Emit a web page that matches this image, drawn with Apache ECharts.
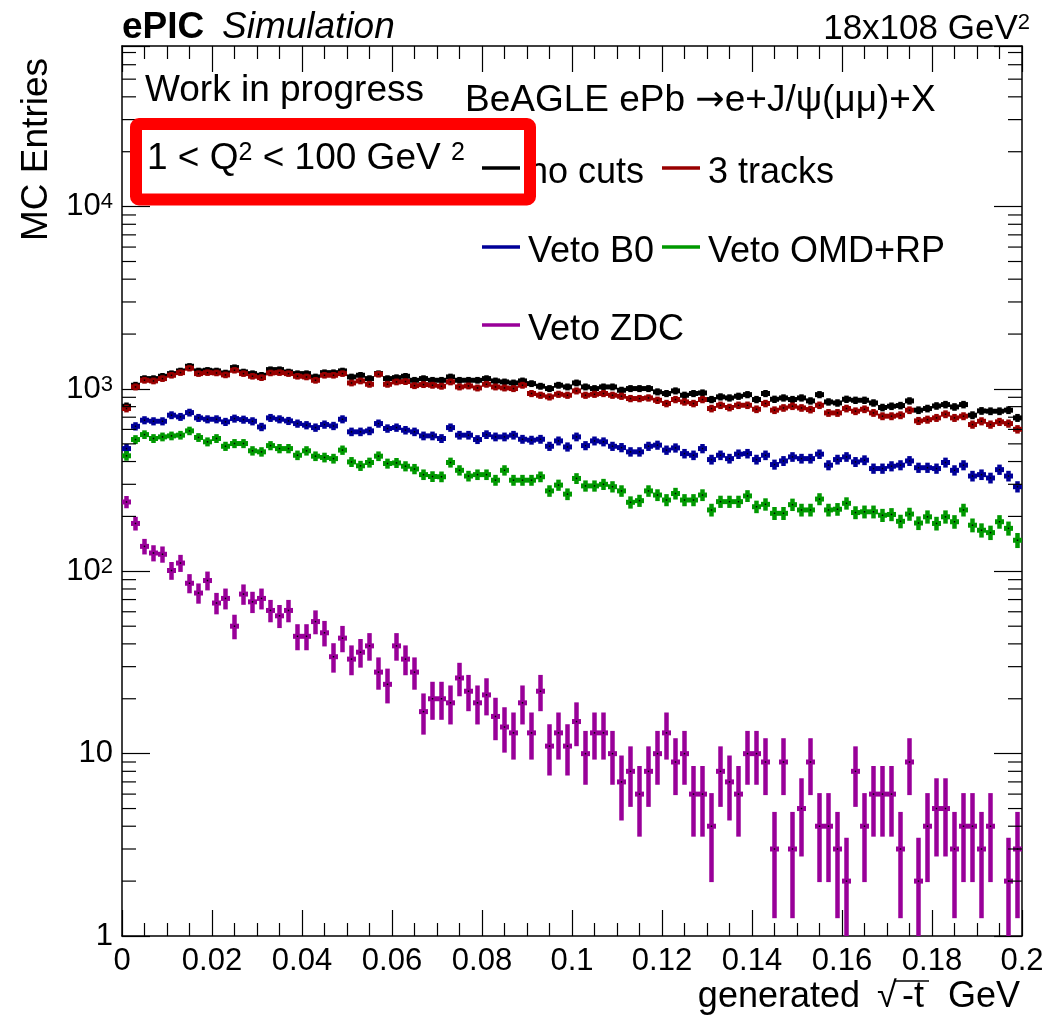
<!DOCTYPE html>
<html>
<head>
<meta charset="utf-8">
<title>BeAGLE ePb J/psi - generated sqrt(-t)</title>
<script src="https://cdn.jsdelivr.net/npm/echarts@6.0.0/dist/echarts.min.js"></script>
<style>
  html, body { margin: 0; padding: 0; background: #ffffff; }
  #chart { width: 1050px; height: 1025px; }
</style>
</head>
<body>
<div id="chart"></div>
<script>
// Histogram binning in generated sqrt(-t) [GeV]
const xMin = 0;
const xMax = 0.2;
const binWidth = 0.002;
const yMin = 1;
const yMax = 76000;

// MC entries per bin (100 bins), one array per selection
const noCuts = [
  804, 1048, 1140, 1140, 1174, 1214, 1256, 1332, 1256, 1266,
  1256, 1224, 1310, 1240, 1214, 1189, 1277, 1277, 1240, 1214,
  1214, 1164, 1229, 1229, 1256, 1164, 1189, 1140, 1214, 1140,
  1154, 1174, 1116, 1140, 1116, 1116, 1164, 1116, 1116, 1116,
  1140, 1107, 1093, 1079, 1107, 1070, 1035, 1005, 1048, 1026,
  1079, 1026, 1005, 1026, 1026, 984, 1005, 1005, 1005, 964,
  944, 976, 924, 944, 951, 875, 905, 893, 912, 931,
  875, 944, 878, 893, 875, 893, 860, 931, 849, 838,
  878, 867, 867, 838, 791, 804, 811, 860, 765, 781,
  807, 821, 797, 821, 718, 758, 755, 755, 765, 694
];
const threeTracks = [
  781, 1026, 1116, 1107, 1140, 1189, 1229, 1299, 1214, 1229,
  1224, 1194, 1266, 1214, 1174, 1154, 1224, 1229, 1214, 1174,
  1164, 1116, 1189, 1189, 1214, 1079, 1107, 1061, 1204, 1061,
  1093, 1098, 1043, 1057, 1048, 1035, 1093, 1026, 1039, 1013,
  1061, 1026, 1013, 1005, 1048, 944, 924, 905, 935, 924,
  976, 924, 935, 944, 924, 912, 886, 886, 893, 867,
  832, 875, 849, 832, 875, 781, 814, 791, 814, 814,
  774, 832, 765, 787, 804, 787, 771, 814, 739, 739,
  781, 755, 774, 739, 709, 709, 718, 765, 668, 679,
  694, 727, 694, 709, 638, 665, 638, 660, 646, 601
];
const vetoB0 = [
  471, 624, 674, 665, 665, 718, 703, 742, 694, 682,
  682, 660, 688, 679, 665, 619, 694, 682, 668, 646,
  633, 614, 638, 627, 682, 582, 582, 589, 646, 607,
  614, 594, 582, 553, 553, 535, 614, 558, 558, 528,
  562, 546, 546, 558, 530, 524, 530, 485, 519, 481,
  546, 489, 519, 513, 485, 477, 452, 452, 485, 492,
  462, 475, 442, 433, 471, 410, 433, 415, 439, 442,
  410, 433, 385, 403, 424, 415, 415, 439, 382, 410,
  424, 398, 407, 366, 366, 377, 382, 403, 370, 370,
  366, 395, 358, 382, 333, 339, 325, 361, 333, 291
];
const vetoOMDRP = [
  430, 528, 562, 535, 546, 553, 558, 589, 542, 513,
  535, 485, 502, 502, 458, 452, 489, 471, 471, 433,
  458, 428, 421, 415, 462, 398, 379, 395, 428, 390,
  393, 377, 364, 339, 331, 330, 395, 358, 333, 339,
  339, 316, 358, 316, 316, 316, 330, 276, 297, 265,
  323, 294, 294, 300, 291, 276, 239, 244, 276, 262,
  246, 267, 246, 246, 262, 217, 241, 241, 241, 259,
  226, 233, 208, 208, 232, 217, 217, 249, 217, 219,
  236, 210, 212, 212, 203, 205, 188, 206, 184, 199,
  183, 199, 187, 217, 179, 168, 163, 187, 172, 148
];
const vetoZDC = [
  240, 183, 137, 126, 124, 101, 111, 86, 76, 89,
  67, 71, 50, 75, 68, 71, 61, 57, 61, 44,
  44, 53, 46, 34, 43, 33, 36, 39, 28, 24,
  39, 33, 28, 17, 20, 20, 19, 26, 22, 19,
  21, 16, 14, 13, 19, 13, 22, 11, 13, 11,
  15, 10, 13, 13, 10, 7, 8, 6, 8, 10,
  13, 9, 10, 6, 6, 4, 8, 7, 6, 10,
  10, 9, 3, 9, 3, 5, 9, 4, 4, 3,
  2, 8, 4, 6, 6, 6, 3, 9, 2, 4,
  5, 5, 3, 4, 4, 3, 4, 0, 2, 3
];

// Labels
const seriesNames = ['no cuts', '3 tracks', 'Veto B0', 'Veto OMD+RP', 'Veto ZDC'];
const seriesColors = ['#000000', '#990000', '#000099', '#009900', '#990099'];
const seriesValues = [noCuts, threeTracks, vetoB0, vetoOMDRP, vetoZDC];
const logMinorSteps = [2, 3, 4, 5, 6, 7, 8, 9];
const yDecades = [1, 10, 100, 1000, 10000];

const FONT = '"Liberation Sans", Arial, Helvetica, sans-serif';
const SYMBOL_FONT = '"DejaVu Sans", "Liberation Sans", sans-serif';

const binCenters = noCuts.map((_, i) => xMin + (i + 0.5) * binWidth);

// Data point with Poisson error bar: horizontal bar spans the bin, vertical bar is +-sqrt(N)
function renderHistPoint(params, api) {
  const x = api.value(0);
  const v = api.value(1);
  if (!(v > 0)) return null;
  const err = Math.sqrt(v);
  const cs = params.coordSys;
  const yTop = cs.y, yBot = cs.y + cs.height;
  const left = api.coord([x - binWidth / 2, v]);
  const right = api.coord([x + binWidth / 2, v]);
  const hi = api.coord([x, v + err]);
  const lo = v - err > 0 ? api.coord([x, v - err]) : [hi[0], yBot + 50];
  const color = api.visual('color');
  const y1 = Math.max(hi[1] - 1, yTop);
  const y2 = Math.min(lo[1] + 1, yBot);
  const children = [];
  if (y2 > y1) {
    children.push({
      type: 'line',
      shape: { x1: hi[0], y1: y1, x2: hi[0], y2: y2 },
      style: { stroke: color, lineWidth: 4.5 }
    });
  }
  if (left[1] >= yTop && left[1] <= yBot) {
    children.push({
      type: 'line',
      shape: { x1: left[0], y1: left[1], x2: right[0], y2: right[1] },
      style: { stroke: color, lineWidth: 5 }
    });
    children.push({
      type: 'rect',
      shape: { x: hi[0] - 0.75, y: left[1] - 0.75, width: 1.5, height: 1.5 },
      style: { fill: '#000000' }
    });
  }
  return { type: 'group', children: children };
}

// Log-scale minor ticks (2..9 x 10^n) on the left and right frame edges
const minorTickValues = [];
yDecades.forEach(d => logMinorSteps.forEach(k => { if (d * k < yMax) minorTickValues.push(d * k); }));

function renderMinorTick(params, api) {
  const v = api.value(1);
  const pL = api.coord([xMin, v]);
  const pR = api.coord([xMax, v]);
  const st = { stroke: '#000000', lineWidth: 1.2 };
  return {
    type: 'group',
    children: [
      { type: 'line', shape: { x1: pL[0], y1: pL[1], x2: pL[0] + 14, y2: pL[1] }, style: st },
      { type: 'line', shape: { x1: pR[0] - 14, y1: pR[1], x2: pR[0], y2: pR[1] }, style: st }
    ]
  };
}

const xAxisCommon = {
  type: 'value', min: xMin, max: xMax, interval: 0.02,
  axisLine: { show: true, onZero: false, lineStyle: { color: '#000', width: 1.5 } },
  axisTick: { show: true, inside: true, length: 26, lineStyle: { color: '#000', width: 1.2 } },
  minorTick: { show: true, splitNumber: 4, length: 13, lineStyle: { color: '#000', width: 1.2 } },
  splitLine: { show: false },
  minorSplitLine: { show: false }
};
const yAxisCommon = {
  type: 'log', logBase: 10, min: yMin, max: yMax, splitNumber: 5,
  axisLine: { show: true, onZero: false, lineStyle: { color: '#000', width: 1.5 } },
  axisTick: { show: true, inside: true, length: 28, lineStyle: { color: '#000', width: 1.2 } },
  minorTick: { show: false },
  splitLine: { show: false }
};

function decadeLabel(v) {
  const lg = Math.log10(v);
  const p = Math.round(lg);
  if (Math.abs(lg - p) > 1e-6 || yDecades.indexOf(Math.pow(10, p)) < 0) return '';
  if (p === 0) return '1';
  if (p === 1) return '10';
  return '10{sup|' + p + '}';
}

// Text width helper for composing the x-axis title
const measureCtx = document.createElement('canvas').getContext('2d');
function textWidth(s, size) {
  measureCtx.font = size + 'px ' + FONT;
  return measureCtx.measureText(s).width;
}

// x-axis title: "generated  sqrt(-t) GeV", right-aligned to the frame
const titleSize = 36;
const titleRight = 1020;
const titleMid = 997;
const wGeV = textWidth('GeV', titleSize);
const wGen = textWidth('generated', titleSize);
const xGeV = titleRight - wGeV;
const xT = titleRight - 118;
const xRad = titleRight - 143;
const xGen = titleRight - 160 - wGen;

function label(text, x, y, size, extra) {
  return {
    type: 'text', x: x, y: y, z: 5,
    style: Object.assign({
      text: text, fontSize: size, fontFamily: FONT, fill: '#000',
      align: 'left', verticalAlign: 'middle'
    }, extra || {})
  };
}

const supRich = size => ({ fontSize: size, lineHeight: size, fontFamily: FONT, fill: '#000', verticalAlign: 'top' });

const legendRows = [
  { i: 0, lx: 482, ty: 168 }, { i: 1, lx: 662, ty: 168 },
  { i: 2, lx: 482, ty: 247 }, { i: 3, lx: 662, ty: 247 },
  { i: 4, lx: 482, ty: 325 }
];

const graphics = [
  label('ePIC', 122, 28, 37, { fontWeight: 'bold' }),
  label('Simulation', 222, 28, 37, { fontStyle: 'italic' }),
  label('18x108 GeV{s|2}', 1030, 29, 35, {
    align: 'right', lineHeight: 35,
    rich: { s: supRich(22) }
  }),
  label('Work in progress', 145, 91, 37),
  label('1 < Q{s|2} < 100 GeV {s|2}', 147, 159, 37, {
    lineHeight: 37,
    rich: { s: supRich(25) }
  }),
  label('BeAGLE ePb {a|\u2192}e+J/\u03C8(\u03BC\u03BC)+X', 465, 101, 37, {
    rich: { a: { fontSize: 35, fontFamily: SYMBOL_FONT, fill: '#000' } }
  }),
  // red frame around the Q2 range
  {
    type: 'rect', z: 20,
    shape: { x: 136, y: 124, width: 394, height: 75.5, r: 3 },
    style: { fill: null, stroke: '#ff0000', lineWidth: 12 }
  },
  // axis titles
  {
    type: 'text', x: 37, y: 58, rotation: Math.PI / 2, z: 5,
    style: { text: 'MC Entries', fontSize: 37, fontFamily: FONT, fill: '#000', align: 'right', verticalAlign: 'middle' }
  },
  label('generated', xGen, titleMid, titleSize),
  label('\u221A', xRad, titleMid, titleSize),
  label('-t', xT, titleMid, titleSize),
  label('GeV', xGeV, titleMid, titleSize),
  {
    type: 'line', z: 5,
    shape: { x1: xRad + 18, y1: titleMid - 16, x2: xT + 27, y2: titleMid - 16 },
    style: { stroke: '#000', lineWidth: 1.5 }
  }
];

legendRows.forEach(r => {
  graphics.push({
    type: 'line', z: 5,
    shape: { x1: r.lx, y1: r.ty, x2: r.lx + 38, y2: r.ty },
    style: { stroke: seriesColors[r.i], lineWidth: 3.5 }
  });
  graphics.push(label(seriesNames[r.i], r.lx + 46, r.ty + 5.5, 36));
});

const dataSeries = seriesValues.map((vals, s) => ({
  type: 'custom',
  name: seriesNames[s],
  xAxisIndex: 0, yAxisIndex: 0,
  clip: true,
  itemStyle: { color: seriesColors[s] },
  encode: { x: 0, y: 1 },
  data: vals.map((v, i) => [binCenters[i], v > 0 ? v : null]),
  renderItem: renderHistPoint,
  silent: true
}));

const option = {
  animation: false,
  backgroundColor: '#ffffff',
  grid: { left: 122, right: 28, top: 46, bottom: 89, containLabel: false, outerBoundsMode: 'none' },
  xAxis: [
    Object.assign({}, xAxisCommon, {
      position: 'bottom',
      axisLabel: {
        show: true, margin: 10, color: '#000', fontFamily: FONT, fontSize: 31,
        formatter: v => String(+(+v).toFixed(3))
      }
    }),
    Object.assign({}, xAxisCommon, { position: 'top', axisLabel: { show: false } })
  ],
  yAxis: [
    Object.assign({}, yAxisCommon, {
      position: 'left',
      axisLabel: {
        show: true, margin: 9, color: '#000', fontFamily: FONT, fontSize: 31, lineHeight: 31,
        formatter: decadeLabel,
        rich: { sup: { fontSize: 22, lineHeight: 22, fontFamily: FONT, color: '#000', verticalAlign: 'top' } }
      }
    }),
    Object.assign({}, yAxisCommon, { position: 'right', axisLabel: { show: false } })
  ],
  series: dataSeries.concat([{
    type: 'custom',
    name: 'log minor ticks',
    xAxisIndex: 0, yAxisIndex: 0,
    encode: { x: 0, y: 1 },
    data: minorTickValues.map(v => [xMin, v]),
    renderItem: renderMinorTick,
    silent: true,
    z: 3
  }]),
  graphic: graphics
};

const chart = echarts.init(document.getElementById('chart'), null, { renderer: 'canvas', width: 1050, height: 1025 });
chart.setOption(option);
</script>
</body>
</html>
